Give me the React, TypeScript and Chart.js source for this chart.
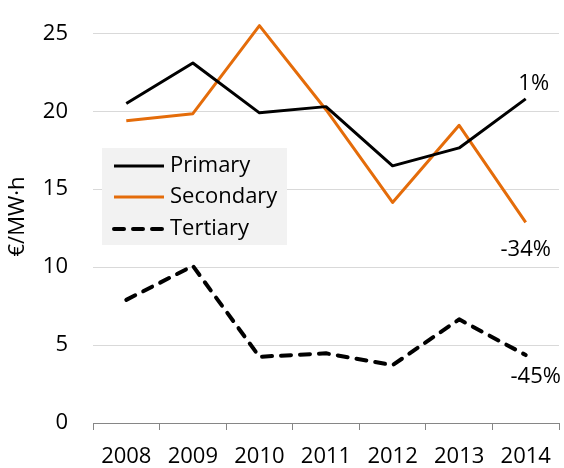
import React, { useEffect, useRef } from "react";
import { Chart, registerables } from "chart.js";

Chart.register(...registerables);

const categories = ["2008", "2009", "2010", "2011", "2012", "2013", "2014"];
const primary = [20.5, 23.1, 19.9, 20.3, 16.5, 17.65, 20.8];
const secondary = [19.4, 19.85, 25.5, 20.1, 14.15, 19.1, 12.87];
const tertiary = [7.9, 10.08, 4.25, 4.47, 3.71, 6.65, 4.36];
const seriesNames = ["Primary", "Secondary", "Tertiary"];
const endLabels = ["1%", "-34%", "-45%"];
const yTicks = [0, 5, 10, 15, 20, 25];

const FONT = "'Open Sans', sans-serif";
const ORANGE = "#E46C0A";

const endLabelPlugin = {
  id: "endLabels",
  afterDatasetsDraw(chart: any) {
    const ctx = chart.ctx;
    const offsets = [
      [8, -15],
      [0, 27],
      [10, 22],
    ];
    ctx.save();
    ctx.font = `22px ${FONT}`;
    ctx.fillStyle = "#000";
    ctx.textAlign = "center";
    ctx.textBaseline = "middle";
    chart.data.datasets.forEach((_: any, i: number) => {
      const meta = chart.getDatasetMeta(i);
      const pt = meta.data[meta.data.length - 1];
      ctx.fillText(endLabels[i], pt.x + offsets[i][0], pt.y + offsets[i][1]);
    });
    ctx.restore();
  },
};

const legendPlugin = {
  id: "boxLegend",
  afterDraw(chart: any) {
    const ctx = chart.ctx;
    const a = chart.chartArea;
    const x0 = a.left + 9;
    const y0 = 148;
    ctx.save();
    ctx.fillStyle = "#F2F2F2";
    ctx.fillRect(x0, y0, 185, 97);
    const rows = [18, 49, 81];
    chart.data.datasets.forEach((ds: any, i: number) => {
      const y = y0 + rows[i];
      ctx.beginPath();
      ctx.strokeStyle = ds.borderColor;
      ctx.lineWidth = ds.borderWidth;
      ctx.lineCap = i === 2 ? "round" : "butt";
      ctx.setLineDash(i === 2 ? [10, 9] : []);
      ctx.moveTo(x0 + 12, y);
      ctx.lineTo(x0 + 62, y);
      ctx.stroke();
      ctx.setLineDash([]);
      ctx.fillStyle = "#000";
      ctx.font = `22px ${FONT}`;
      ctx.textAlign = "left";
      ctx.textBaseline = "middle";
      ctx.fillText(seriesNames[i], x0 + 68, y);
    });
    ctx.restore();
  },
};

export default function App() {
  const ref = useRef<HTMLCanvasElement | null>(null);

  useEffect(() => {
    if (!ref.current) return;
    const chart = new Chart(ref.current, {
      type: "line",
      data: {
        labels: categories,
        datasets: [
          {
            label: seriesNames[0],
            data: primary,
            borderColor: "#000000",
            backgroundColor: "#000000",
            borderWidth: 3,
            pointRadius: 0,
            borderJoinStyle: "round",
          },
          {
            label: seriesNames[1],
            data: secondary,
            borderColor: ORANGE,
            backgroundColor: ORANGE,
            borderWidth: 3,
            pointRadius: 0,
            borderJoinStyle: "round",
          },
          {
            label: seriesNames[2],
            data: tertiary,
            borderColor: "#000000",
            backgroundColor: "#000000",
            borderWidth: 4,
            borderDash: [10, 9],
            borderCapStyle: "round",
            pointRadius: 0,
            borderJoinStyle: "round",
          },
        ],
      },
      options: {
        responsive: false,
        animation: false,
        layout: { padding: { top: 10, right: 5, left: 0, bottom: 0 } },
        plugins: {
          legend: { display: false },
          tooltip: { enabled: false },
        },
        scales: {
          x: {
            offset: true,
            grid: {
              offset: true,
              drawOnChartArea: false,
              drawTicks: true,
              tickLength: 7,
              color: "#868686",
            },
            border: { color: "#868686", width: 1 },
            ticks: {
              color: "#000",
              font: { family: FONT, size: 22 },
              padding: 14,
              maxRotation: 0,
              autoSkip: false,
            },
            afterFit: (s: any) => {
              s.height = 45;
              s.paddingLeft = 0;
              s.paddingRight = 0;
            },
          },
          y: {
            min: 0,
            max: 26.5,
            afterBuildTicks: (s: any) => {
              s.ticks = yTicks.map((v) => ({ value: v }));
            },
            grid: { color: "#D9D9D9", lineWidth: 1, drawTicks: false },
            border: { display: false },
            ticks: {
              color: "#000",
              font: { family: FONT, size: 22 },
              padding: 25,
            },
            title: {
              display: true,
              text: "€/MW·h",
              color: "#000",
              font: { family: FONT, size: 22 },
              padding: { top: 5, bottom: 0 },
            },
            afterFit: (s: any) => {
              s.width = 93;
              s.paddingTop = 0;
              s.paddingBottom = 0;
            },
          },
        },
      },
      plugins: [endLabelPlugin, legendPlugin],
    });
    return () => chart.destroy();
  }, []);

  return (
    <div style={{ position: "absolute", left: 0, top: 0, width: 564, height: 468, background: "#fff" }}>
      <canvas ref={ref} width={564} height={468} />
    </div>
  );
}
